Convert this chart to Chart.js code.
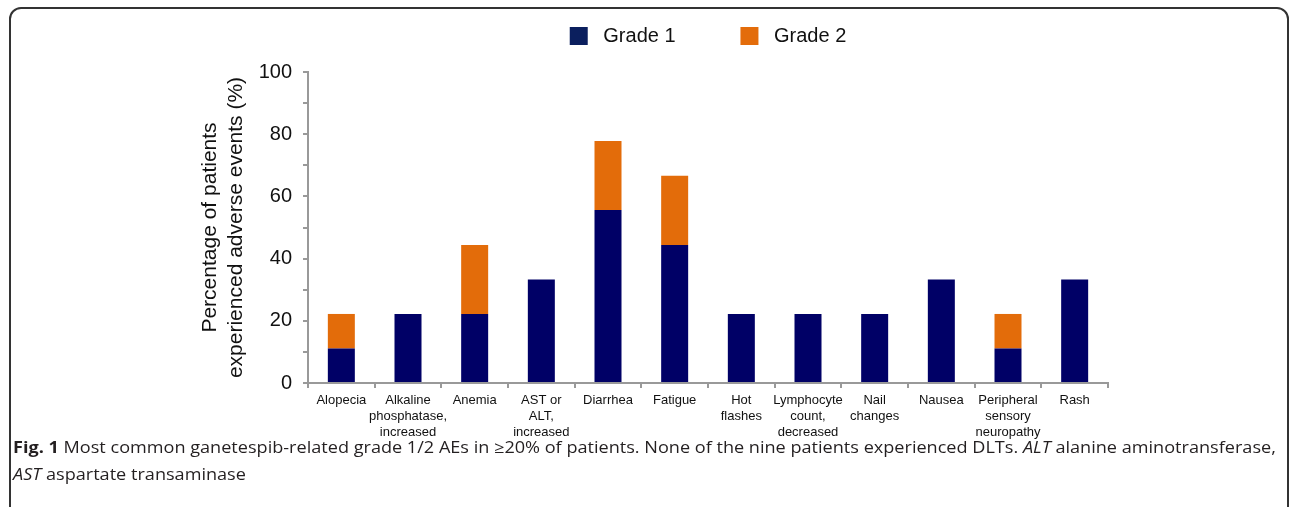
<!DOCTYPE html>
<html>
<head>
<meta charset="utf-8">
<script src="https://cdn.jsdelivr.net/npm/chart.js@4.4.0/dist/chart.umd.min.js"></script>
<style>
  html,body{margin:0;padding:0;background:#fff;overflow:hidden;}
  #frame{position:absolute;left:9px;top:7px;width:1280px;height:540px;border:2px solid #333;border-radius:12px;box-sizing:border-box;}
  #wrap{position:absolute;left:0;top:0;width:1292px;height:443px;}
  #caption{position:absolute;left:13px;top:434px;font-family:"Open Sans",sans-serif;font-size:16px;line-height:27px;color:#231f20;white-space:nowrap;transform-origin:0 0;}
  #caption i{font-style:italic;}
</style>
</head>
<body>
<div id="frame"></div>
<div id="wrap"><canvas id="chart"></canvas></div>
<div id="caption"><b>Fig. 1</b> Most common ganetespib-related grade 1/2 AEs in ≥20% of patients. None of the nine patients experienced DLTs. <i>ALT</i> alanine aminotransferase,<br><i>AST</i> aspartate transaminase</div>
<script>
const categories = [
  "Alopecia", ["Alkaline","phosphatase,","increased"], "Anemia", ["AST or","ALT,","increased"],
  "Diarrhea", "Fatigue", ["Hot","flashes"], ["Lymphocyte","count,","decreased"],
  ["Nail","changes"], "Nausea", ["Peripheral","sensory","neuropathy"], "Rash"
];
const grade1 = [11.1, 22.2, 22.2, 33.3, 55.6, 44.4, 22.2, 22.2, 22.2, 33.3, 11.1, 33.3];
const grade2 = [11.1, 0, 22.2, 0, 22.2, 22.2, 0, 0, 0, 0, 11.1, 0];
const yTickLabels = [0, 20, 40, 60, 80, 100];

const axisGray = "#999999";
const navy = "#000066";
const orange = "#E36C0A";
const padLeft = 197;

// give the legend a little more room underneath, like the original
const legendRoom = {
  id: "legendRoom",
  beforeInit(chart){
    const lg = chart.legend;
    if(!lg) return;
    const fit = lg.fit;
    lg.fit = function(){ fit.call(this); this.height += 16; };
  }
};

const ctx = document.getElementById("chart").getContext("2d");
new Chart(ctx, {
  type: "bar",
  data: {
    labels: categories,
    datasets: [
      {label: " Grade 1\u00a0\u00a0\u00a0\u00a0\u00a0\u00a0\u00a0", data: grade1, backgroundColor: navy},
      {label: " Grade 2", data: grade2, backgroundColor: orange}
    ]
  },
  plugins: [legendRoom],
  options: {
    responsive: true,
    maintainAspectRatio: false,
    animation: false,
    layout: {padding: {left: padLeft, right: 184, top: 0, bottom: 0}},
    datasets: {bar: {categoryPercentage: 1, barPercentage: 0.405}},
    plugins: {
      tooltip: {enabled: false},
      legend: {
        position: "top",
        fullSize: false,
        labels: {
          boxWidth: 18, boxHeight: 18, padding: 26, color: "#111",
          font: {family: "Liberation Sans, Arial, sans-serif", size: 20},
          generateLabels(chart){
            const items = Chart.defaults.plugins.legend.labels.generateLabels(chart);
            items[0].fillStyle = "#0b1f5e";
            items.forEach(it => { it.strokeStyle = "transparent"; it.lineWidth = 0; });
            return items;
          }
        }
      }
    },
    scales: {
      x: {
        stacked: true,
        offset: true,
        border: {color: axisGray, width: 2},
        grid: {offset: true, drawOnChartArea: false, drawTicks: true, tickLength: 5, color: axisGray, lineWidth: 2},
        ticks: {color: "#111", padding: 4, maxRotation: 0, autoSkip: false,
          font: {family: "Liberation Sans, Arial, sans-serif", size: 13, lineHeight: 1.23}},
        afterFit(scale){ scale.height = 60; }
      },
      y: {
        stacked: true,
        min: 0, max: 100,
        border: {color: axisGray, width: 2},
        grid: {drawOnChartArea: false, drawTicks: true, tickLength: 5, color: axisGray, lineWidth: 2},
        ticks: {
          stepSize: 10, color: "#111", padding: 11,
          font: {family: "Liberation Sans, Arial, sans-serif", size: 20},
          callback: v => yTickLabels.includes(v) ? v : ""
        },
        title: {
          display: true,
          text: ["Percentage of patients", "experienced adverse events (%)"],
          color: "#111",
          padding: 0,
          font: {family: "Liberation Sans, Arial, sans-serif", size: 21, lineHeight: 1.25}
        },
        afterFit(scale){ scale.width = 308 - padLeft; }
      }
    }
  }
});

// squeeze caption to the width of the original line
const cap = document.getElementById("caption");
const target = 1263;
cap.style.transform = "scaleX(" + (target / cap.scrollWidth) + ")";
</script>
</body>
</html>
